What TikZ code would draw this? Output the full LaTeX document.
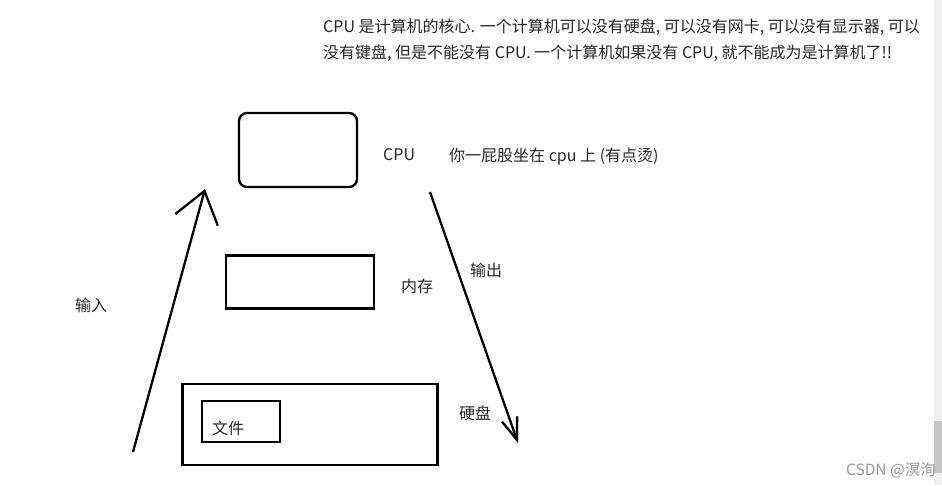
\documentclass[tikz,border=0pt]{standalone}
\usepackage{fontspec}
\setmainfont{Noto Sans CJK SC}
\usetikzlibrary{arrows.meta}

\tikzset{
  unit/.style={draw, line width=2.3pt, inner sep=0pt},
  lbl/.style={anchor=west, inner sep=0pt, text=black!85},
  hand/.style={line width=2.3pt},
}

\begin{document}
\begin{tikzpicture}[x=1pt, y=-1pt, font=\fontsize{16}{25}\selectfont]
        \useasboundingbox[fill=white] (0,0) rectangle (942,485);
        % scrollbar
        \fill[black!6] (934,0) rectangle (942,485);
        \fill[black!22] (934,421) rectangle (942,473);

        \node[lbl] (intro1) at (323,27) {CPU 是计算机的核心. 一个计算机可以没有硬盘, 可以没有网卡, 可以没有显示器, 可以};
        \node[lbl] (intro2) at (323,53) {没有键盘, 但是不能没有 CPU. 一个计算机如果没有 CPU, 就不能成为是计算机了!!};

        \node[unit, rounded corners=8pt, minimum width=118pt, minimum height=74pt] (cpu) at (298,150) {};
        \node[unit, minimum width=148pt, minimum height=53pt] (mem) at (300,282) {};
        \node[unit, minimum width=255pt, minimum height=81pt] (disk) at (310,424.5) {};
        \node[unit, minimum width=78pt, minimum height=41pt] (file) at (241,421.5) {};

        \node[lbl] (cpulbl) at (383,155) {CPU};
        \node[lbl] (hot) at (449,157) {你一屁股坐在 cpu 上 (有点烫)};
        \node[lbl] (memlbl) at (401,286) {内存};
        \node[lbl] (disklbl) at (459,413) {硬盘};
        \node[lbl] (filelbl) at (212,428) {文件};
        \node[lbl] (inlbl) at (75,305) {输入};
        \node[lbl] (outlbl) at (470,270) {输出};

        \coordinate (in1) at (133,452);
        \coordinate (in2) at (205,189);
        \coordinate (out1) at (430,192);
        \coordinate (out2) at (518,443);
        \draw[hand, -{Straight Barb[length=30pt, width=44pt]}] (in1) -- (in2);
        \draw[hand, -{Straight Barb[length=22pt, width=16pt]}] (out1) -- (out2);

        \node[anchor=east, inner sep=0pt, text=black!40, font=\fontsize{15.5}{17}\selectfont] (mark) at (936,470) {CSDN @溟洵};
      \end{tikzpicture}
\end{document}
